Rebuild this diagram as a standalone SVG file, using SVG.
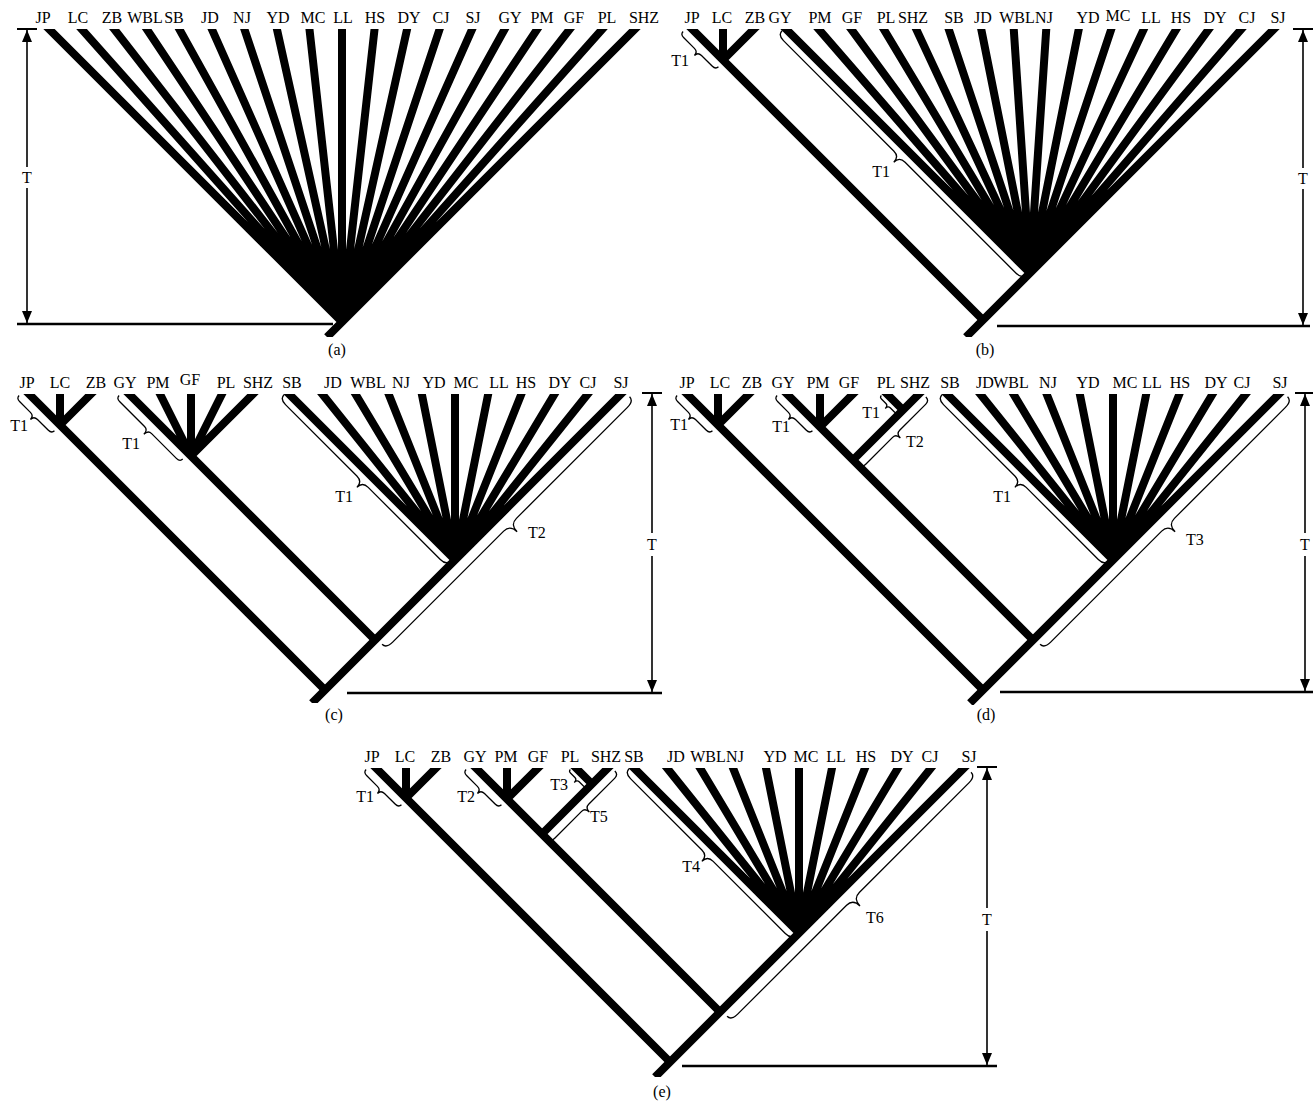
<svg xmlns="http://www.w3.org/2000/svg" width="1313" height="1104" viewBox="0 0 1313 1104">
<style>
.b{fill:none;stroke:#000;stroke-width:8;stroke-linecap:butt;stroke-linejoin:miter}
.k{fill:none;stroke:#000;stroke-width:1.3}
.ax{fill:none;stroke:#000;stroke-width:1.6}
.bl{fill:none;stroke:#000;stroke-width:2.5}
.bar{fill:none;stroke:#000;stroke-width:2}
text{font-family:"Liberation Serif","Times New Roman",serif;font-size:16px;fill:#000}
.tx{text-anchor:middle}
.e{text-anchor:end}
</style>
<defs>
<marker id="ah" markerUnits="userSpaceOnUse" markerWidth="12" markerHeight="10" refX="12" refY="5" orient="auto"><path d="M0,0 L12,5 L0,10 z"/></marker>
<clipPath id="ca"><rect x="0" y="29" width="660" height="308"/></clipPath>
<clipPath id="cb"><rect x="660" y="29" width="653" height="308"/></clipPath>
<clipPath id="cc"><rect x="0" y="394" width="660" height="309"/></clipPath>
<clipPath id="cd"><rect x="660" y="394" width="653" height="311"/></clipPath>
<clipPath id="ce"><rect x="330" y="768" width="660" height="309"/></clipPath>
</defs>

<!-- Panel a -->
<g id="panel-a">
<g id="a-connectors" clip-path="url(#ca)">
<path class="b" d="M42,22L342,322M75.33,22L342,322M108.67,22L342,322M142,22L342,322M175.33,22L342,322M208.67,22L342,322M242,22L342,322M275.33,22L342,322M308.67,22L342,322M342,22L342,322M375.33,22L342,322M408.67,22L342,322M442,22L342,322M475.33,22L342,322M508.67,22L342,322M542,22L342,322M575.33,22L342,322M608.67,22L342,322M642,22L327,337"/>
</g>
<g id="a-labels">
<text x="43" y="23" class="tx">JP</text><text x="78" y="23" class="tx">LC</text><text x="112" y="23" class="tx">ZB</text><text x="145" y="23" class="tx">WBL</text><text x="174" y="23" class="tx">SB</text><text x="210" y="23" class="tx">JD</text><text x="242" y="23" class="tx">NJ</text><text x="278" y="23" class="tx">YD</text><text x="313" y="23" class="tx">MC</text><text x="343" y="23" class="tx">LL</text><text x="375" y="23" class="tx">HS</text><text x="409" y="23" class="tx">DY</text><text x="441" y="23" class="tx">CJ</text><text x="473" y="23" class="tx">SJ</text><text x="510" y="23" class="tx">GY</text><text x="542" y="23" class="tx">PM</text><text x="574" y="23" class="tx">GF</text><text x="607" y="23" class="tx">PL</text><text x="644" y="23" class="tx">SHZ</text>
</g>
<g id="a-scale">
<line class="bar" x1="17" y1="29" x2="37" y2="29"/>
<line class="ax" x1="27" y1="167" x2="27" y2="30" marker-end="url(#ah)"/>
<line class="ax" x1="27" y1="188" x2="27" y2="323" marker-end="url(#ah)"/>
<text x="27" y="183" class="tx">T</text>
<line class="bl" x1="17" y1="324" x2="333" y2="324"/>
</g>
<text x="337" y="355" class="tx">(a)</text>
</g>

<!-- Panel b -->
<g id="panel-b">
<g id="b-connectors" clip-path="url(#cb)">
<path class="b" d="M685,22L983,320M723,22L723,60M761,22L723,60"/>
<path class="b" d="M779,22L1030,273M812.47,22L1030,273M845.93,22L1030,273M879.4,22L1030,273M912.87,22L1030,273M946.33,22L1030,273M979.8,22L1030,273M1013.27,22L1030,273M1046.73,22L1030,273M1080.2,22L1030,273M1113.67,22L1030,273M1147.13,22L1030,273M1180.6,22L1030,273M1214.07,22L1030,273M1247.53,22L1030,273M1281,22L966,337"/>
</g>
<g id="b-braces">
<path class="k" transform="translate(683.1,31.42) rotate(45)" d="M0,0 Q0,4 5,4 H20 Q25,4 25,9 Q25,4 30,4 H45 Q50,4 50,0"/>
<path class="k" transform="translate(782.05,30.71) rotate(45)" d="M0,0 Q0,6 8,6 H164 Q172,6 172,14 Q172,6 180,6 H337 Q345,6 345,0"/>
<text x="689" y="66" class="e">T1</text>
<text x="890" y="177" class="e">T1</text>
</g>
<g id="b-labels">
<text x="692" y="23" class="tx">JP</text><text x="722" y="23" class="tx">LC</text><text x="755" y="23" class="tx">ZB</text><text x="780" y="23" class="tx">GY</text><text x="820" y="23" class="tx">PM</text><text x="852" y="23" class="tx">GF</text><text x="886" y="23" class="tx">PL</text><text x="913" y="23" class="tx">SHZ</text><text x="954" y="23" class="tx">SB</text><text x="983" y="23" class="tx">JD</text><text x="1017" y="23" class="tx">WBL</text><text x="1044" y="23" class="tx">NJ</text><text x="1088" y="23" class="tx">YD</text><text x="1118" y="21" class="tx">MC</text><text x="1151" y="23" class="tx">LL</text><text x="1181" y="23" class="tx">HS</text><text x="1215" y="23" class="tx">DY</text><text x="1247" y="23" class="tx">CJ</text><text x="1278" y="23" class="tx">SJ</text>
</g>
<g id="b-scale">
<line class="bar" x1="1293" y1="29" x2="1313" y2="29"/>
<line class="ax" x1="1303" y1="168" x2="1303" y2="30" marker-end="url(#ah)"/>
<line class="ax" x1="1303" y1="189" x2="1303" y2="325" marker-end="url(#ah)"/>
<text x="1303" y="184" class="tx">T</text>
<line class="bl" x1="997" y1="326" x2="1310" y2="326"/>
</g>
<text x="985" y="355" class="tx">(b)</text>
</g>

<!-- Panel c -->
<g id="panel-c">
<g id="c-connectors" clip-path="url(#cc)">
<path class="b" d="M21,386L325,690M60,386L60,425M99,386L60,425"/>
<path class="b" d="M121,386L375,640M156,386L191,456M191,386L191,456M226,386L191,456M261,386L191,456"/>
<path class="b" d="M281,386L455,560M315.8,386L455,560M350.6,386L455,560M385.4,386L455,560M420.2,386L455,560M455,386L455,560M489.8,386L455,560M524.6,386L455,560M559.4,386L455,560M594.2,386L455,560M629,386L312,703"/>
</g>
<g id="c-braces">
<path class="k" transform="translate(19.1,395.42) rotate(45)" d="M0,0 Q0,4 5,4 H20 Q25,4 25,9 Q25,4 30,4 H45 Q50,4 50,0"/>
<path class="k" transform="translate(119.1,395.42) rotate(45)" d="M0,0 Q0,4 5,4 H40 Q45,4 45,10 Q45,4 50,4 H85 Q90,4 90,0"/>
<path class="k" transform="translate(284.05,394.71) rotate(45)" d="M0,0 Q0,6 8,6 H109 Q117,6 117,14 Q117,6 125,6 H227 Q235,6 235,0"/>
<path class="k" transform="translate(382.07,644.25) rotate(-45)" d="M0,0 Q0,6 9,6 H166 Q175,6 175,16 Q175,6 184,6 H341 Q350,6 350,0"/>
<text x="28" y="431" class="e">T1</text>
<text x="140" y="449" class="e">T1</text>
<text x="353" y="502" class="e">T1</text>
<text x="528" y="538">T2</text>
</g>
<g id="c-labels">
<text x="27" y="388" class="tx">JP</text><text x="60" y="388" class="tx">LC</text><text x="96" y="388" class="tx">ZB</text><text x="125" y="388" class="tx">GY</text><text x="158" y="388" class="tx">PM</text><text x="190" y="385" class="tx">GF</text><text x="226" y="388" class="tx">PL</text><text x="258" y="388" class="tx">SHZ</text><text x="292" y="388" class="tx">SB</text><text x="333" y="388" class="tx">JD</text><text x="368" y="388" class="tx">WBL</text><text x="401" y="388" class="tx">NJ</text><text x="434" y="388" class="tx">YD</text><text x="466" y="388" class="tx">MC</text><text x="499" y="388" class="tx">LL</text><text x="526" y="388" class="tx">HS</text><text x="560" y="388" class="tx">DY</text><text x="588" y="388" class="tx">CJ</text><text x="621" y="388" class="tx">SJ</text>
</g>
<g id="c-scale">
<line class="bar" x1="642" y1="393" x2="662" y2="393"/>
<line class="ax" x1="652" y1="533" x2="652" y2="394" marker-end="url(#ah)"/>
<line class="ax" x1="652" y1="556" x2="652" y2="692" marker-end="url(#ah)"/>
<text x="652" y="550" class="tx">T</text>
<line class="bl" x1="347" y1="693" x2="662" y2="693"/>
</g>
<text x="334" y="720" class="tx">(c)</text>
</g>

<!-- Panel d -->
<g id="panel-d">
<g id="d-connectors" clip-path="url(#cd)">
<path class="b" d="M679,386L983,690M718,386L718,425M757,386L718,425"/>
<path class="b" d="M779,386L1033,640M820,386L820,427M861,386L820,427M927,386L853,460M879,386L903,410"/>
<path class="b" d="M939,386L1113,560M973.8,386L1113,560M1008.6,386L1113,560M1043.4,386L1113,560M1078.2,386L1113,560M1113,386L1113,560M1147.8,386L1113,560M1182.6,386L1113,560M1217.4,386L1113,560M1252.2,386L1113,560M1287,386L970,703"/>
</g>
<g id="d-braces">
<path class="k" transform="translate(677.1,395.42) rotate(45)" d="M0,0 Q0,4 5,4 H20 Q25,4 25,9 Q25,4 30,4 H45 Q50,4 50,0"/>
<path class="k" transform="translate(777.1,395.42) rotate(45)" d="M0,0 Q0,4 5,4 H20 Q25,4 25,9 Q25,4 30,4 H45 Q50,4 50,0"/>
<path class="k" transform="translate(881.34,395.42) rotate(45)" d="M0,0 Q0,2.5 3,2.5 H9 Q12,2.5 12,6.5 Q12,2.5 15,2.5 H21 Q24,2.5 24,0"/>
<path class="k" transform="translate(858.66,464.24) rotate(-45)" d="M0,0 Q0,5 5,5 H43 Q48,5 48,11 Q48,5 53,5 H90 Q95,5 95,0"/>
<path class="k" transform="translate(942.05,394.71) rotate(45)" d="M0,0 Q0,6 8,6 H109 Q117,6 117,14 Q117,6 125,6 H227 Q235,6 235,0"/>
<path class="k" transform="translate(1040.07,644.25) rotate(-45)" d="M0,0 Q0,6 9,6 H166 Q175,6 175,16 Q175,6 184,6 H341 Q350,6 350,0"/>
<text x="688" y="430" class="e">T1</text>
<text x="790" y="432" class="e">T1</text>
<text x="880" y="418" class="e">T1</text>
<text x="906" y="447">T2</text>
<text x="1011" y="502" class="e">T1</text>
<text x="1186" y="545">T3</text>
</g>
<g id="d-labels">
<text x="687" y="388" class="tx">JP</text><text x="720" y="388" class="tx">LC</text><text x="752" y="388" class="tx">ZB</text><text x="783" y="388" class="tx">GY</text><text x="818" y="388" class="tx">PM</text><text x="849" y="388" class="tx">GF</text><text x="886" y="388" class="tx">PL</text><text x="915" y="388" class="tx">SHZ</text><text x="950" y="388" class="tx">SB</text><text x="985" y="388" class="tx">JD</text><text x="1011" y="388" class="tx">WBL</text><text x="1048" y="388" class="tx">NJ</text><text x="1088" y="388" class="tx">YD</text><text x="1125" y="388" class="tx">MC</text><text x="1152" y="388" class="tx">LL</text><text x="1180" y="388" class="tx">HS</text><text x="1216" y="388" class="tx">DY</text><text x="1242" y="388" class="tx">CJ</text><text x="1280" y="388" class="tx">SJ</text>
</g>
<g id="d-scale">
<line class="bar" x1="1295" y1="393" x2="1313" y2="393"/>
<line class="ax" x1="1305" y1="533" x2="1305" y2="394" marker-end="url(#ah)"/>
<line class="ax" x1="1305" y1="556" x2="1305" y2="691" marker-end="url(#ah)"/>
<text x="1305" y="550" class="tx">T</text>
<line class="bl" x1="1000" y1="692" x2="1313" y2="692"/>
</g>
<text x="986" y="720" class="tx">(d)</text>
</g>

<!-- Panel e -->
<g id="panel-e">
<g id="e-connectors" clip-path="url(#ce)">
<path class="b" d="M368,760L670,1062M406,760L406,798M444,760L406,798"/>
<path class="b" d="M468,760L720,1012M507,760L507,799M546,760L507,799M616,760L542,834M568,760L592,784"/>
<path class="b" d="M626,760L799,933M660.6,760L799,933M695.2,760L799,933M729.8,760L799,933M764.4,760L799,933M799,760L799,933M833.6,760L799,933M868.2,760L799,933M902.8,760L799,933M937.4,760L799,933M972,760L655,1077"/>
</g>
<g id="e-braces">
<path class="k" transform="translate(366.1,769.42) rotate(45)" d="M0,0 Q0,4 5,4 H20 Q25,4 25,9 Q25,4 30,4 H45 Q50,4 50,0"/>
<path class="k" transform="translate(466.1,769.42) rotate(45)" d="M0,0 Q0,4 5,4 H20 Q25,4 25,9 Q25,4 30,4 H45 Q50,4 50,0"/>
<path class="k" transform="translate(570.34,769.42) rotate(45)" d="M0,0 Q0,2.5 3,2.5 H9 Q12,2.5 12,6.5 Q12,2.5 15,2.5 H21 Q24,2.5 24,0"/>
<path class="k" transform="translate(547.66,838.24) rotate(-45)" d="M0,0 Q0,5 5,5 H43 Q48,5 48,11 Q48,5 53,5 H90 Q95,5 95,0"/>
<path class="k" transform="translate(629.05,768.71) rotate(45)" d="M0,0 Q0,6 8,6 H109 Q117,6 117,14 Q117,6 125,6 H227 Q235,6 235,0"/>
<path class="k" transform="translate(727.07,1016.25) rotate(-45)" d="M0,0 Q0,6 9,6 H163 Q172,6 172,16 Q172,6 181,6 H336 Q345,6 345,0"/>
<text x="374" y="802" class="e">T1</text>
<text x="475" y="802" class="e">T2</text>
<text x="568" y="790" class="e">T3</text>
<text x="590" y="822">T5</text>
<text x="700" y="872" class="e">T4</text>
<text x="866" y="923">T6</text>
</g>
<g id="e-labels">
<text x="372" y="762" class="tx">JP</text><text x="405" y="762" class="tx">LC</text><text x="441" y="762" class="tx">ZB</text><text x="475" y="762" class="tx">GY</text><text x="506" y="762" class="tx">PM</text><text x="538" y="762" class="tx">GF</text><text x="570" y="762" class="tx">PL</text><text x="606" y="762" class="tx">SHZ</text><text x="634" y="762" class="tx">SB</text><text x="676" y="762" class="tx">JD</text><text x="708" y="762" class="tx">WBL</text><text x="735" y="762" class="tx">NJ</text><text x="775" y="762" class="tx">YD</text><text x="806" y="762" class="tx">MC</text><text x="836" y="762" class="tx">LL</text><text x="866" y="762" class="tx">HS</text><text x="902" y="762" class="tx">DY</text><text x="930" y="762" class="tx">CJ</text><text x="969" y="762" class="tx">SJ</text>
</g>
<g id="e-scale">
<line class="bar" x1="977" y1="767" x2="997" y2="767"/>
<line class="ax" x1="987" y1="908" x2="987" y2="768" marker-end="url(#ah)"/>
<line class="ax" x1="987" y1="931" x2="987" y2="1065" marker-end="url(#ah)"/>
<text x="987" y="925" class="tx">T</text>
<line class="bl" x1="682" y1="1066" x2="997" y2="1066"/>
</g>
<text x="662" y="1097" class="tx">(e)</text>
</g>
</svg>
